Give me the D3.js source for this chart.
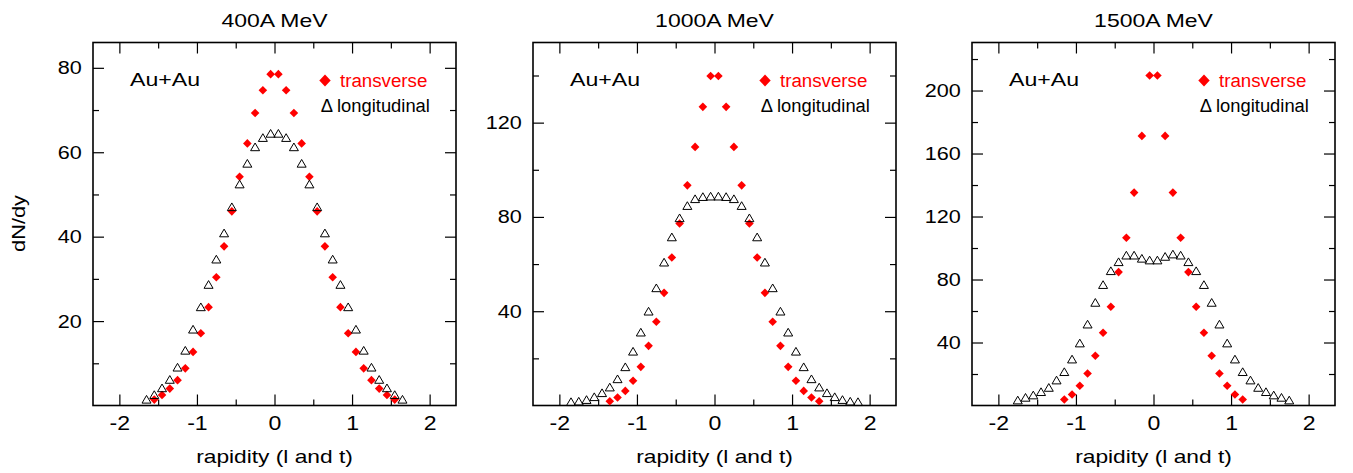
<!DOCTYPE html>
<html>
<head>
<meta charset="utf-8">
<script src="https://cdn.jsdelivr.net/npm/d3@7"></script>
<style>
  body { margin: 0; background: #fff; }
  text { font-family: "Liberation Sans", Arial, Helvetica, sans-serif; }
</style>
</head>
<body>
<svg id="chart" width="1353" height="473"></svg>
<script>
// panel titles
var titles = ["400A MeV", "1000A MeV", "1500A MeV"];

// 400A MeV
var yT400 = [-1.55, -1.45, -1.35, -1.25, -1.15, -1.05, -0.95, -0.85, -0.75, -0.65, -0.55, -0.45, -0.35, -0.25, -0.15, -0.05,
             0.05, 0.15, 0.25, 0.35, 0.45, 0.55, 0.65, 0.75, 0.85, 0.95, 1.05, 1.15, 1.25, 1.35, 1.45, 1.55];
var dT400 = [1.4, 2.5, 4.0, 6.0, 8.8, 12.7, 17.1, 23.3, 30.4, 37.7, 46.0, 54.2, 62.1, 69.3, 74.7, 78.5,
             78.5, 74.7, 69.3, 62.1, 54.2, 46.0, 37.7, 30.4, 23.3, 17.1, 12.7, 8.8, 6.0, 4.0, 2.5, 1.4];
var yL400 = [-1.65, -1.55, -1.45, -1.35, -1.25, -1.15, -1.05, -0.95, -0.85, -0.75, -0.65, -0.55, -0.45, -0.35, -0.25, -0.15, -0.05,
             0.05, 0.15, 0.25, 0.35, 0.45, 0.55, 0.65, 0.75, 0.85, 0.95, 1.05, 1.15, 1.25, 1.35, 1.45, 1.55, 1.65];
var dL400 = [1.3, 2.4, 4.0, 6.0, 8.9, 12.9, 17.9, 23.2, 28.5, 34.5, 40.7, 46.9, 52.3, 57.2, 61.1, 63.3, 64.3,
             64.3, 63.3, 61.1, 57.2, 52.3, 46.9, 40.7, 34.5, 28.5, 23.2, 17.9, 12.9, 8.9, 6.0, 4.0, 2.4, 1.3];

// 1000A MeV
var yT1000 = [-1.35, -1.25, -1.15, -1.05, -0.95, -0.85, -0.75, -0.65, -0.55, -0.45, -0.35, -0.25, -0.15, -0.05,
              0.05, 0.15, 0.25, 0.35, 0.45, 0.55, 0.65, 0.75, 0.85, 0.95, 1.05, 1.15, 1.25, 1.35];
var dT1000 = [1.8, 3.4, 6.2, 10.5, 16.4, 25.3, 35.5, 47.8, 62.8, 77.2, 93.4, 109.7, 126.7, 139.8,
              139.8, 126.7, 109.7, 93.4, 77.2, 62.8, 47.8, 35.5, 25.3, 16.4, 10.5, 6.2, 3.4, 1.8];
var yL1000 = [-1.85, -1.75, -1.65, -1.55, -1.45, -1.35, -1.25, -1.15, -1.05, -0.95, -0.85, -0.75, -0.65, -0.55, -0.45, -0.35, -0.25, -0.15, -0.05,
              0.05, 0.15, 0.25, 0.35, 0.45, 0.55, 0.65, 0.75, 0.85, 0.95, 1.05, 1.15, 1.25, 1.35, 1.45, 1.55, 1.65, 1.75, 1.85];
var dL1000 = [1.3, 1.5, 2.2, 3.4, 5.1, 7.5, 11.0, 16.1, 22.7, 30.8, 39.7, 49.6, 60.5, 71.2, 79.3, 84.5, 87.4, 88.3, 88.5,
              88.5, 88.3, 87.4, 84.5, 79.3, 71.2, 60.5, 49.6, 39.7, 30.8, 22.7, 16.1, 11.0, 7.5, 5.1, 3.4, 2.2, 1.5, 1.3];

// 1500A MeV
var yT1500 = [-1.15, -1.05, -0.95, -0.85, -0.75, -0.65, -0.55, -0.45, -0.35, -0.25, -0.15, -0.05,
              0.05, 0.15, 0.25, 0.35, 0.45, 0.55, 0.65, 0.75, 0.85, 0.95, 1.05, 1.15];
var dT1500 = [3.8, 7.0, 12.5, 20.3, 31.6, 46.2, 62.7, 84.7, 106.5, 135.2, 171.2, 209.5,
              209.5, 171.2, 135.2, 106.5, 84.7, 62.7, 46.2, 31.6, 20.3, 12.5, 7.0, 3.8];
var yL1500 = [-1.75, -1.65, -1.55, -1.45, -1.35, -1.25, -1.15, -1.05, -0.95, -0.85, -0.75, -0.65, -0.55, -0.45, -0.35, -0.25, -0.15, -0.05,
              0.05, 0.15, 0.25, 0.35, 0.45, 0.55, 0.65, 0.75, 0.85, 0.95, 1.05, 1.15, 1.25, 1.35, 1.45, 1.55, 1.65, 1.75];
var dL1500 = [3.0, 4.7, 6.2, 8.3, 11.0, 15.7, 21.0, 29.0, 39.2, 51.2, 65.0, 76.3, 85.1, 90.8, 95.0, 95.0, 93.0, 91.9,
              91.9, 94.2, 95.7, 95.0, 90.8, 85.1, 76.3, 65.0, 51.2, 39.2, 29.0, 21.0, 15.7, 11.0, 8.3, 6.2, 4.7, 3.0];

// axes
var yMax = [86, 154, 230.5];
var yMajor = [[20, 40, 60, 80], [40, 80, 120], [40, 80, 120, 160, 200]];
var yMinor = [[10, 30, 50, 70], [20, 60, 100, 140], [20, 60, 100, 140, 180, 220]];
var xMajor = [-2, -1, 0, 1, 2];
var xMinor = [-1.5, -0.5, 0.5, 1.5];

var panelLeft = [93, 533, 972];
var pw = 363, plotTop = 42.5, plotBottom = 405.5;

var panels = [
  {tx: yT400, ty: dT400, lx: yL400, ly: dL400},
  {tx: yT1000, ty: dT1000, lx: yL1000, ly: dL1000},
  {tx: yT1500, ty: dT1500, lx: yL1500, ly: dL1500}
];

var svg = d3.select("#chart");

// text stretched sideways like the original figure
function stext(g, x, y, str, size, sx, anchor) {
  return g.append("text")
    .attr("transform", "translate(" + x + "," + y + ") scale(" + sx + ",1)")
    .attr("text-anchor", anchor || "middle")
    .attr("font-size", size)
    .text(str);
}

var diamond = function (w, h) { return "M0," + (-h) + "L" + w + ",0L0," + h + "L" + (-w) + ",0Z"; };
var triangle = "M0,-4.6L4.5,3.1L-4.5,3.1Z";

panels.forEach(function (p, i) {
  var L = panelLeft[i];
  var x = d3.scaleLinear().domain([-2.34, 2.34]).range([L, L + pw]);
  var y = d3.scaleLinear().domain([0, yMax[i]]).range([plotBottom, plotTop]);
  var g = svg.append("g");

  // ticks on all four sides, pointing inward
  function ax(a, vals, size, labels) {
    return a.tickValues(vals).tickSize(-size).tickFormat(labels ? d3.format("d") : "");
  }
  var xb = g.append("g").attr("transform", "translate(0," + plotBottom + ")")
    .call(ax(d3.axisBottom(x), xMajor, 11, true).tickPadding(10));
  g.append("g").attr("transform", "translate(0," + plotBottom + ")").call(ax(d3.axisBottom(x), xMinor, 6));
  g.append("g").attr("transform", "translate(0," + plotTop + ")").call(ax(d3.axisTop(x), xMajor, 11));
  g.append("g").attr("transform", "translate(0," + plotTop + ")").call(ax(d3.axisTop(x), xMinor, 6));
  var yl = g.append("g").attr("transform", "translate(" + L + ",0)")
    .call(ax(d3.axisLeft(y), yMajor[i], 11, true).tickPadding(9.5));
  g.append("g").attr("transform", "translate(" + L + ",0)").call(ax(d3.axisLeft(y), yMinor[i], 6));
  g.append("g").attr("transform", "translate(" + (L + pw) + ",0)").call(ax(d3.axisRight(y), yMajor[i], 11));
  g.append("g").attr("transform", "translate(" + (L + pw) + ",0)").call(ax(d3.axisRight(y), yMinor[i], 6));

  g.selectAll(".domain").remove();
  g.selectAll(".tick line").attr("stroke", "#000").attr("stroke-width", 1.2);
  xb.selectAll("text").attr("font-size", 21).attr("fill", "#000")
    .attr("font-family", "Liberation Sans, Arial, sans-serif")
    .attr("transform", "scale(1.1,1)")
    .text(function (d) { return d < 0 ? "-" + Math.abs(d) : d; });
  yl.selectAll("text").attr("font-size", 18.5).attr("fill", "#000")
    .attr("font-family", "Liberation Sans, Arial, sans-serif")
    .attr("transform", "scale(1.17,1)");

  g.append("rect").attr("x", L).attr("y", plotTop).attr("width", pw).attr("height", plotBottom - plotTop)
    .attr("fill", "none").attr("stroke", "#000").attr("stroke-width", 1.6);

  // data
  g.selectAll(".tr").data(d3.zip(p.tx, p.ty)).join("path")
    .attr("d", diamond(4.3, 4.3))
    .attr("transform", function (d) { return "translate(" + x(d[0]) + "," + y(d[1]) + ")"; })
    .attr("fill", "#ff0000");
  g.selectAll(".lo").data(d3.zip(p.lx, p.ly)).join("path")
    .attr("d", triangle)
    .attr("transform", function (d) { return "translate(" + x(d[0]) + "," + y(d[1]) + ")"; })
    .attr("fill", "none").attr("stroke", "#000").attr("stroke-width", 1);

  // legend
  stext(g, L + 37, plotTop + 43.2, "Au+Au", 18.5, 1.25, "start");
  g.append("path").attr("d", diamond(5.7, 5.9))
    .attr("transform", "translate(" + (L + 232) + "," + (plotTop + 38) + ")").attr("fill", "#ff0000");
  stext(g, L + 247, plotTop + 44, "transverse", 18, 1.04, "start").attr("fill", "#ff0000");
  stext(g, L + 227.7, plotTop + 69, "\u0394 longitudinal", 18, 1.02, "start");

  // titles
  var cx = L + pw / 2;
  stext(g, cx, 26.7, titles[i], 19, 1.21);
  stext(g, cx, 463, "rapidity (l and t)", 18.5, 1.23);
});

svg.append("text")
  .attr("transform", "translate(25,223.5) rotate(-90) scale(1.21,1)")
  .attr("text-anchor", "middle").attr("font-size", 18).text("dN/dy");
</script>
</body>
</html>
